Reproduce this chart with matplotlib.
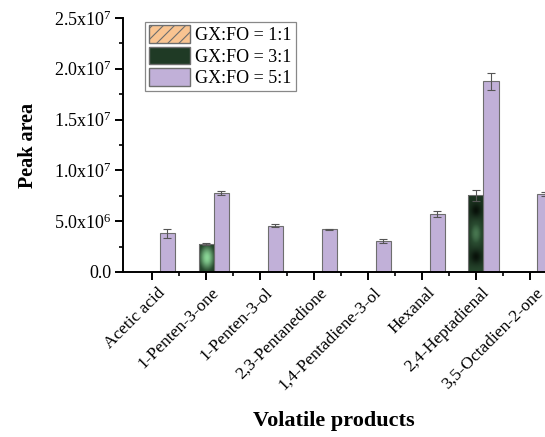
import numpy as np
import matplotlib
matplotlib.use("Agg")
import matplotlib.pyplot as plt
from matplotlib.colors import LinearSegmentedColormap
from matplotlib.patches import Patch
from matplotlib.ticker import FixedLocator, MultipleLocator
from matplotlib.transforms import ScaledTranslation

plt.rcParams["font.family"] = ["Liberation Serif", "DejaVu Serif"]
plt.rcParams["mathtext.fontset"] = "custom"
plt.rcParams["mathtext.rm"] = "Liberation Serif"
plt.rcParams["mathtext.it"] = "Liberation Serif:italic"
plt.rcParams["hatch.color"] = "#6b4a2f"
plt.rcParams["hatch.linewidth"] = 0.8

compounds = ["Acetic acid", "1-Penten-3-one", "1-Penten-3-ol", "2,3-Pentanedione",
             "1,4-Pentadiene-3-ol", "Hexanal", "2,4-Heptadienal", "3,5-Octadien-2-one"]
ratio_11 = [0, 0, 0, 0, 0, 0, 0, 0]
ratio_11_err = [0, 0, 0, 0, 0, 0, 0, 0]
ratio_31 = [0, 2.76e6, 0, 0, 0, 0, 7.55e6, 0]
ratio_31_err = [0, 0.1e6, 0, 0, 0, 0, 0.55e6, 0]
ratio_51 = [3.8e6, 7.75e6, 4.55e6, 4.2e6, 3.05e6, 5.75e6, 18.75e6, 7.72e6]
ratio_51_err = [0.45e6, 0.2e6, 0.15e6, 0.08e6, 0.2e6, 0.3e6, 0.8e6, 0.2e6]
labels = ["GX:FO = 1:1", "GX:FO = 3:1", "GX:FO = 5:1"]


def fmt(v, pos):
    if v <= 0:
        return "0.0"
    e = int(np.floor(np.log10(v)))
    return r"%.1fx10$^{%d}$" % (v / 10 ** e, e)


fig = plt.figure(figsize=(5.45, 4.37), dpi=100)
ax = fig.add_axes([123 / 545, 165 / 437, 422 / 545, 254 / 437])

x = np.arange(len(compounds))
w = 0.28
purple = "#c1b0d8"
edge = "#6e6e6e"

ax.bar(x - w, ratio_11, w, color="#f9c491", edgecolor=edge, hatch="///", linewidth=0.8)
green = ax.bar(x, ratio_31, w, color="#2c4a32", edgecolor=edge, linewidth=0.8)
ax.bar(x + w, ratio_51, w, color=purple, edgecolor=edge, linewidth=0.8)

ekw = dict(fmt="none", ecolor="#555555", elinewidth=0.8, capsize=2.8, capthick=0.8)
m31 = np.array(ratio_31) > 0
ax.errorbar(x[m31], np.array(ratio_31)[m31], yerr=np.array(ratio_31_err)[m31], **ekw)
ax.errorbar(x + w, ratio_51, yerr=ratio_51_err, **ekw)

# textured green fill, roughly like the origin pattern
cmap = LinearSegmentedColormap.from_list("g", ["#070f08", "#2a4c31", "#8ad596"])
for b in green:
    h = b.get_height()
    if h <= 0:
        continue
    u, v = np.meshgrid(np.linspace(-1, 1, 40), np.linspace(-1, 1, 160))
    if h < 5e6:
        img = 0.25 + 0.75 * np.exp(-(u ** 2 / 1.0 + v ** 2 / 0.8))
    else:
        img = 0.3 + 0.35 * np.exp(-(u ** 2 / 0.8 + v ** 2 / 0.12))
        img += 0.15 * np.exp(-((v + 1) ** 2) / 0.05)
        img -= 0.3 * np.exp(-((np.abs(v) - 0.6) ** 2) / 0.03) * np.exp(-u ** 2 / 0.4)
    im = ax.imshow(img, cmap=cmap, vmin=0, vmax=1, aspect="auto", origin="lower",
                   extent=[b.get_x(), b.get_x() + b.get_width(), 0, h], zorder=b.get_zorder())
    im.set_clip_path(b)
    b.set_facecolor("none")
    b.set_zorder(b.get_zorder() + 0.1)

ax.set_xlim(-0.54, 7.28)
ax.set_ylim(0, 2.5e7)
ax.yaxis.set_major_locator(MultipleLocator(5e6))
ax.yaxis.set_minor_locator(MultipleLocator(2.5e6))
ax.yaxis.set_major_formatter(fmt)
ax.set_xticks(x)
ax.set_xticklabels(compounds, rotation=45, ha="right", va="top", rotation_mode="anchor", fontsize=12.5)
ax.xaxis.set_minor_locator(FixedLocator(x + 0.5))

for s in ["top", "right"]:
    ax.spines[s].set_visible(False)
for s in ["left", "bottom"]:
    ax.spines[s].set_linewidth(1.4)
ax.tick_params(which="major", length=6, width=1.4, direction="out")
ax.tick_params(which="minor", length=3.2, width=1.2, direction="out")
ax.tick_params(axis="y", which="major", labelsize=13, pad=2)
ax.tick_params(axis="x", which="major", pad=3)

# nudge rotated labels to the right, as in the original
off = ScaledTranslation(3.5 / 72, 0, fig.dpi_scale_trans)
for tk in ax.xaxis.get_major_ticks():
    tk.label1.set_transform(tk.label1.get_transform() + off)

ax.set_ylabel("Peak area", fontsize=14.5, fontweight="bold", labelpad=12)
ax.set_xlabel("Volatile products", fontsize=16, fontweight="bold", labelpad=13)

handles = [Patch(facecolor="#f9c491", edgecolor=edge, hatch="///"),
           Patch(facecolor="#1f3a25", edgecolor=edge),
           Patch(facecolor=purple, edgecolor=edge)]
leg = ax.legend(handles, labels, loc="upper left", bbox_to_anchor=(0.052, 0.985),
                borderaxespad=0, fontsize=13, handlelength=2.3, handleheight=1.1,
                labelspacing=0.15, borderpad=0.2, handletextpad=0.3,
                fancybox=False, framealpha=1, edgecolor="#888888")
leg.get_frame().set_linewidth(0.9)

fig.savefig("out.png", dpi=100)
